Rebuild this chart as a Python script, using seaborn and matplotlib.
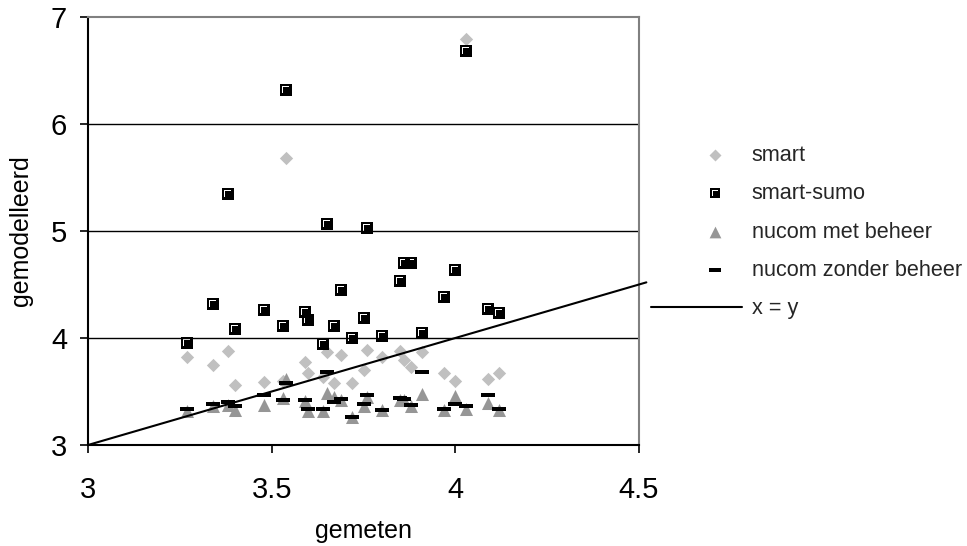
import numpy as np
import pandas as pd
import matplotlib
matplotlib.use("Agg")
import matplotlib.pyplot as plt
from matplotlib.path import Path
from matplotlib.legend_handler import HandlerLine2D
import seaborn as sns

# ---- data -------------------------------------------------------------
gemeten = [3.27, 3.34, 3.38, 3.40, 3.48, 3.53, 3.54, 3.59, 3.60, 3.64, 3.65, 3.67, 3.69,
           3.72, 3.75, 3.76, 3.80, 3.85, 3.86, 3.88, 3.91, 3.97, 4.00, 4.03, 4.09, 4.12]
smart = [3.82, 3.75, 3.88, 3.56, 3.59, 3.60, 5.68, 3.78, 3.67, 3.64, 3.87, 3.58, 3.84,
         3.58, 3.70, 3.89, 3.82, 3.88, 3.79, 3.73, 3.87, 3.67, 3.60, 6.79, 3.62, 3.67]
smart_sumo = [3.95, 4.32, 5.35, 4.08, 4.26, 4.11, 6.32, 4.24, 4.17, 3.94, 5.07, 4.11, 4.45,
              4.00, 4.19, 5.03, 4.02, 4.53, 4.70, 4.70, 4.05, 4.38, 4.64, 6.68, 4.27, 4.23]
nucom_met = [3.32, 3.36, 3.37, 3.33, 3.37, 3.44, 3.62, 3.41, 3.32, 3.32, 3.49, 3.45, 3.42,
             3.26, 3.36, 3.45, 3.33, 3.42, 3.42, 3.36, 3.48, 3.33, 3.46, 3.34, 3.39, 3.33]
nucom_zonder = [3.34, 3.38, 3.40, 3.36, 3.47, 3.42, 3.58, 3.42, 3.34, 3.34, 3.68, 3.40, 3.43,
                3.26, 3.38, 3.47, 3.33, 3.44, 3.43, 3.37, 3.68, 3.34, 3.38, 3.36, 3.47, 3.34]
identity = [3.0, 4.52]
series_labels = ["smart", "smart-sumo", "nucom met beheer", "nucom zonder beheer", "x = y"]
xticks = [3, 3.5, 4, 4.5]
yticks = [3, 4, 5, 6, 7]

# ---- style ------------------------------------------------------------
sns.set_theme(style="white")
plt.rcParams["font.family"] = ["Liberation Sans", "DejaVu Sans"]

fig = plt.figure(figsize=(9.67, 5.46), dpi=100)
ax = fig.add_axes([88 / 967, 1 - 445 / 546, (639 - 88) / 967, (445 - 17) / 546])

# square marker with white "Γ" highlight (hole)
sq_verts = [(-1, -1), (1, -1), (1, 1), (-1, 1), (-1, -1),
            (-0.62, -0.5), (-0.62, 0.62), (0.5, 0.62), (0.5, 0.44), (-0.44, 0.44), (-0.44, -0.5), (-0.62, -0.5)]
sq_codes = [Path.MOVETO, Path.LINETO, Path.LINETO, Path.LINETO, Path.CLOSEPOLY,
            Path.MOVETO, Path.LINETO, Path.LINETO, Path.LINETO, Path.LINETO, Path.LINETO, Path.CLOSEPOLY]
sumo_marker = Path(sq_verts, sq_codes)

dash_marker = Path([(-1, -0.28), (1, -0.28), (1, 0.28), (-1, 0.28), (-1, -0.28)],
                   [Path.MOVETO, Path.LINETO, Path.LINETO, Path.LINETO, Path.CLOSEPOLY])

sns.scatterplot(x=gemeten, y=smart, marker="D", s=46, color="#C0C0C0", linewidth=0,
                label=series_labels[0], ax=ax, zorder=3)
sns.scatterplot(x=gemeten, y=smart_sumo, marker=sumo_marker, s=70, color="black", linewidth=0,
                label=series_labels[1], ax=ax, zorder=3)
sns.scatterplot(x=gemeten, y=nucom_met, marker="^", s=88, color="#969696", linewidth=0,
                label=series_labels[2], ax=ax, zorder=3)
sns.scatterplot(x=gemeten, y=nucom_zonder, marker=dash_marker, s=92, color="black", linewidth=0,
                label=series_labels[3], ax=ax, zorder=3)
sns.lineplot(x=identity, y=identity, color="black", linewidth=1.5, label=series_labels[4],
             ax=ax, zorder=4)
for ln in ax.get_lines():
    ln.set_clip_on(False)

ax.set_xlim(3, 4.5)
ax.set_ylim(3, 7)
ax.set_xticks(xticks)
ax.set_xticklabels([f"{t:g}" for t in xticks])
ax.set_yticks(yticks)
ax.set_yticklabels([f"{t:g}" for t in yticks])

for y in yticks[1:-1]:
    ax.axhline(y, color="black", linewidth=1.0, zorder=1)

for side in ["left", "bottom"]:
    ax.spines[side].set_color("black")
    ax.spines[side].set_linewidth(1.5)
for side in ["top", "right"]:
    ax.spines[side].set_color("#808080")
    ax.spines[side].set_linewidth(1.5)
    ax.spines[side].set_visible(True)

ax.tick_params(axis="both", which="major", direction="out", length=6, width=1.2,
               color="black", labelsize=21, labelcolor="black",
               left=True, bottom=True)
ax.tick_params(axis="x", pad=16)
ax.tick_params(axis="y", pad=9)

ax.set_xlabel("gemeten", fontsize=18, color="black")
ax.set_ylabel("gemodelleerd", fontsize=18, color="black")
ax.xaxis.set_label_coords(0.5, -0.174)
ax.yaxis.set_label_coords(-0.1, 0.5)


class LongLineHandler(HandlerLine2D):
    def get_xdata(self, legend, xdescent, ydescent, width, height, fontsize):
        xdata, xmark = super().get_xdata(legend, xdescent, ydescent, width, height, fontsize)
        xdata = np.array([-xdescent - 27.0, -xdescent + width])
        return xdata, xmark


handles, labels = ax.get_legend_handles_labels()
line_handle = handles[-1]
leg = ax.legend(handles, labels, loc="center left", bbox_to_anchor=(688 / 967, 1 - 232 / 546),
                bbox_transform=fig.transFigure, frameon=False, fontsize=15.6,
                handlelength=2.5, handletextpad=0.45, labelspacing=0.80,
                borderaxespad=0, borderpad=0, markerscale=0.9,
                handler_map={line_handle: LongLineHandler()})

fig.savefig("out.png", dpi=100, facecolor="white")
